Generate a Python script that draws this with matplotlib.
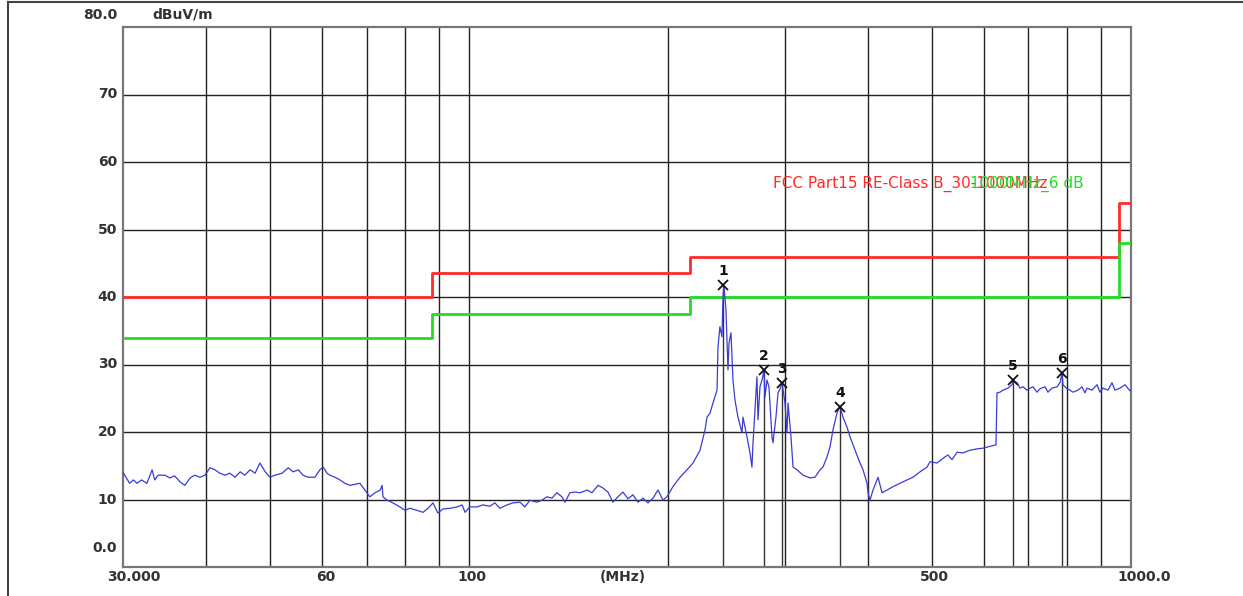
import numpy as np
import matplotlib
matplotlib.use("Agg")
from matplotlib import pyplot as plt
from matplotlib.lines import Line2D

# measured trace (MHz, dBuV/m)
freq = [30.0, 30.7, 31.1, 31.5, 32.0, 32.6, 33.2, 33.5, 33.9, 34.7, 35.3, 35.9, 36.6, 37.2, 37.9,
        38.5, 39.2, 39.9, 40.6, 41.3, 42.0, 42.8, 43.5, 44.3, 45.1, 45.8, 46.7, 47.5, 48.3, 49.2,
        50.0, 50.9, 52.2, 53.3, 54.2, 55.2, 56.1, 57.1, 58.5, 59.5, 60.2, 61.0, 61.6, 62.7, 63.8,
        64.9, 66.1, 67.7, 68.4, 69.6, 70.8, 72.1, 73.4, 73.9, 74.1, 75.2, 76.7, 78.6, 80.0, 81.4,
        83.4, 85.2, 86.7, 88.2, 89.7, 91.3, 93.6, 95.9, 97.6, 98.6, 100.3, 102.8, 104.9, 107.5,
        109.4, 111.3, 114.1, 116.5, 119.4, 121.4, 123.6, 126.6, 128.8, 131.1, 133.4, 135.7, 138.1,
        139.6, 142.0, 144.5, 147.1, 150.7, 153.3, 156.6, 159.3, 162.1, 164.9, 167.8, 170.8, 173.8,
        176.8, 179.9, 183.1, 186.3, 189.6, 192.9, 196.3, 199.0, 203.2, 208.3, 213.4, 217.9, 223.3,
        227.2, 228.8, 231.2, 233.6, 236.9, 237.7, 239.3, 241.0, 241.9, 242.7, 244.4, 246.1, 247.0,
        248.7, 250.4, 252.2, 254.8, 258.4, 259.3, 262.9, 265.7, 267.5, 268.5, 270.3, 272.2, 273.2,
        275.1, 277.0, 278.9, 279.9, 281.9, 283.8, 286.8, 287.8, 290.8, 292.9, 295.9, 297.0, 300.1,
        302.2, 303.3, 306.4, 308.6, 312.9, 319.5, 327.4, 333.1, 339.0, 342.5, 347.3, 351.0, 354.6,
        359.6, 363.4, 367.2, 372.4, 376.3, 382.9, 389.6, 393.7, 399.2, 400.6, 403.4, 407.6, 413.3,
        414.8, 420.6, 428.0, 437.0, 447.7, 458.8, 468.4, 480.0, 491.8, 497.0, 509.2, 520.0, 529.1,
        536.5, 545.9, 557.4, 571.1, 585.2, 597.5, 608.0, 625.2, 627.4, 634.0, 640.6, 651.8, 661.0,
        663.3, 672.6, 679.6, 686.8, 696.4, 703.7, 711.1, 721.0, 728.6, 741.4, 749.1, 759.7, 773.0,
        781.1, 786.5, 789.3, 800.3, 808.7, 817.2, 831.6, 843.2, 852.0, 858.0, 873.0, 888.4, 897.7,
        907.1, 923.0, 936.0, 945.8, 962.4, 979.3, 996.5, 1000.0]
level = [14.0, 12.4, 12.9, 12.4, 12.9, 12.4, 14.4, 12.9, 13.6, 13.6, 13.2, 13.5, 12.6, 12.1, 13.2,
         13.6, 13.3, 13.6, 14.7, 14.4, 13.9, 13.6, 13.9, 13.3, 14.1, 13.6, 14.4, 13.9, 15.4, 14.1,
         13.3, 13.6, 13.9, 14.7, 14.1, 14.4, 13.6, 13.3, 13.3, 14.4, 14.8, 13.9, 13.6, 13.3, 12.9,
         12.4, 12.1, 12.3, 12.4, 11.4, 10.4, 11.0, 11.4, 12.1, 10.4, 9.9, 9.5, 8.9, 8.4, 8.7,
         8.4, 8.1, 8.7, 9.5, 8.0, 8.6, 8.7, 8.9, 9.2, 8.1, 8.9, 8.9, 9.2, 9.0,
         9.5, 8.7, 9.2, 9.5, 9.6, 8.9, 9.9, 9.6, 9.9, 10.4, 10.2, 11.0, 10.4,
         9.6, 11.0, 11.1, 11.0, 11.4, 11.0, 12.1, 11.7, 11.1, 9.6, 10.4, 11.1, 10.1,
         10.7, 9.6, 10.2, 9.5, 10.2, 11.4, 9.9, 10.4, 11.9, 13.3, 14.4, 15.4, 17.3,
         20.3, 22.2, 22.8, 24.3, 26.2, 32.6, 35.6, 34.1, 40.0, 41.6, 38.1, 29.2, 33.2,
         34.7, 27.7, 24.7, 22.2, 19.9, 22.2, 19.3, 16.9, 14.8, 18.4, 23.3, 28.2, 21.8,
         26.7, 27.7, 29.1, 25.2, 27.7, 26.7, 19.3, 18.4, 22.2, 25.8, 26.7, 27.3, 24.3,
         19.9, 24.3, 19.3, 14.8, 14.4, 13.6, 13.2, 13.3, 14.4, 14.8, 16.3, 17.8, 20.3,
         22.8, 23.8, 22.2, 20.7, 19.3, 17.3, 15.4, 14.4, 12.4, 11.0, 9.9, 11.4, 12.9,
         13.3, 11.0, 11.4, 11.9, 12.4, 12.9, 13.3, 14.1, 14.8, 15.6, 15.4, 16.1, 16.6,
         15.9, 17.0, 16.9, 17.3, 17.5, 17.6, 17.8, 18.1, 25.8, 25.9, 26.2, 26.5, 27.0,
         27.6, 27.3, 26.5, 26.7, 26.2, 26.5, 26.7, 25.9, 26.4, 26.7, 25.9, 26.5, 26.7,
         27.3, 28.6, 27.0, 26.4, 26.2, 25.9, 26.2, 26.7, 25.8, 26.5, 26.2, 27.0, 25.9,
         26.5, 26.2, 27.3, 26.2, 26.5, 27.0, 26.1, 26.2]

# FCC Part15 class B limit and 6 dB margin line
limit_edges = [30, 88, 216, 960, 1000]
limit_red = [40.0, 43.5, 46.0, 54.0, 54.0]
limit_green = [34.0, 37.5, 40.0, 48.0, 48.0]

# peak markers
mk_no = ["1", "2", "3", "4", "5", "6"]
mk_freq = [241.9, 278.9, 297.0, 363.4, 663.3, 786.5]
mk_level = [41.8, 29.2, 27.3, 23.7, 27.7, 28.8]

xlabel_vals = [60, 100, 500]
ylabel_vals = [10, 20, 30, 40, 50, 60, 70]

W, H = 1243, 596
fig = plt.figure(figsize=(W / 100, H / 100), dpi=100)
ax = fig.add_axes([123 / W, (H - 567) / H, 1008 / W, 540 / H])

ax.set_xscale("log")
ax.set_xlim(30, 1000)
ax.set_ylim(0, 80)

grid_x = [40, 50, 60, 70, 80, 90, 100, 200, 300, 400, 500, 600, 700, 800, 900]
for gx in grid_x:
    ax.axvline(gx, color="#222222", lw=1.0, zorder=1)
for gy in ylabel_vals:
    ax.axhline(gy, color="#222222", lw=1.0, zorder=1)

for s in ax.spines.values():
    s.set_color("#777777")
    s.set_linewidth(1.6)

ax.set_xticks([])
ax.set_xticks([], minor=True)
ax.set_yticks([])

ax.plot(limit_edges, limit_red, drawstyle="steps-post", color="#ff2a2a", lw=2, zorder=3)
ax.plot(limit_edges, limit_green, drawstyle="steps-post", color="#22dd22", lw=2, zorder=3)

ax.plot(freq, level, color="#3b3bd6", lw=0.9, zorder=4)

ax.vlines(mk_freq, 0, mk_level, color="#333333", lw=1.0, zorder=2)
ax.plot(mk_freq, mk_level, "x", color="#111111", ms=7, mew=1.3, zorder=5)
for n, f, l in zip(mk_no, mk_freq, mk_level):
    ax.annotate(n, (f, l), xytext=(0, 14), textcoords="offset pixels",
                ha="center", va="center", fontsize=10, fontweight="bold", color="#111111")

tfont = dict(fontsize=10, fontweight="bold", color="#333333")
for v in ylabel_vals:
    ax.annotate(str(v), (30, v), xytext=(-6, 0), textcoords="offset pixels",
                ha="right", va="center", annotation_clip=False, **tfont)
ax.annotate("80.0", (30, 80), xytext=(-6, 12), textcoords="offset pixels",
            ha="right", va="center", annotation_clip=False, **tfont)
ax.annotate("0.0", (30, 0), xytext=(-6, 19), textcoords="offset pixels",
            ha="right", va="center", annotation_clip=False, **tfont)
ax.annotate("dBuV/m", (30, 80), xytext=(29, 12), textcoords="offset pixels",
            ha="left", va="center", annotation_clip=False, **tfont)

ax.annotate("30.000", (30, 0), xytext=(-16, -10), textcoords="offset pixels",
            ha="left", va="center", annotation_clip=False, **tfont)
for v in xlabel_vals:
    ax.annotate(str(v), (v, 0), xytext=(3, -10), textcoords="offset pixels",
                ha="center", va="center", annotation_clip=False, **tfont)
ax.annotate("(MHz)", (30, 0), xytext=(500, -10), textcoords="offset pixels",
            ha="center", va="center", annotation_clip=False, **tfont)
ax.annotate("1000.0", (1000, 0), xytext=(13, -10), textcoords="offset pixels",
            ha="center", va="center", annotation_clip=False, **tfont)

ax.text(773 / W, 1 - 184 / H, "FCC Part15 RE-Class B_30-1000MHz", transform=fig.transFigure,
        ha="left", va="center", fontsize=11, color="#ff2a2a")
ax.text(1084 / W, 1 - 184 / H, "1000MHz_6 dB", transform=fig.transFigure,
        ha="right", va="center", fontsize=11, color="#22dd22")

# outer frame
fig.add_artist(Line2D([8 / W, 8 / W], [0, 1 - 2 / H], color="#444444", lw=1.5))
fig.add_artist(Line2D([8 / W, 1], [1 - 2 / H, 1 - 2 / H], color="#444444", lw=1.5))

fig.savefig("out.png", dpi=100, facecolor="white")
